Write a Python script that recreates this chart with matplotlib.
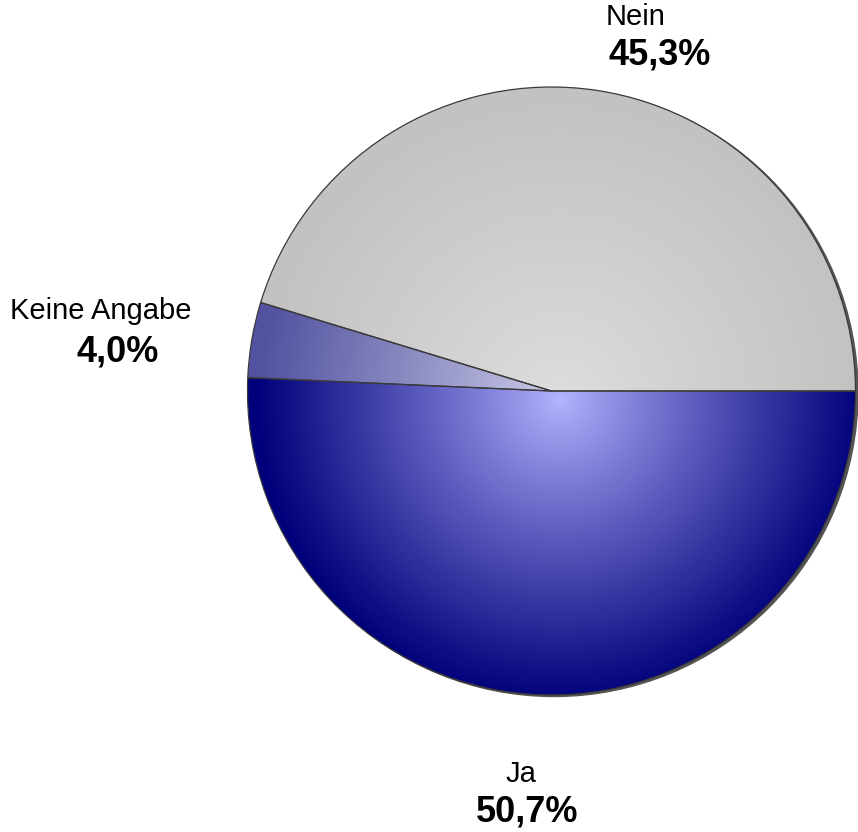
import numpy as np
import matplotlib
matplotlib.use('Agg')
import matplotlib.pyplot as plt
from matplotlib.colors import LinearSegmentedColormap
from matplotlib.patches import Circle

# Data
labels = ['Ja', 'Keine Angabe', 'Nein']
shares = [50.7, 4.0, 45.3]
share_text = ['50,7%', '4,0%', '45,3%']

# Gradient colours (centre -> edge) per slice
grad_colors = [('#b4b4ff', '#00007a'), ('#d0d0ec', '#5252a0'), ('#dedede', '#c2c2c2')]

W, H = 858, 832
fig = plt.figure(figsize=(W / 100, H / 100), dpi=100)
ax = fig.add_axes([0, 0, 1, 1])

cx, cy, r = 551.5, 391, 304

# soft shadow on the right edge
ax.add_patch(Circle((cx + 2.5, cy + 1.5), r, color='#555555', zorder=0.5))

# y axis is inverted below, so counterclock=True draws clockwise on screen
wedges, _ = ax.pie(shares, startangle=0, counterclock=True, center=(cx, cy), radius=r,
                   wedgeprops=dict(edgecolor='#3a3a3a', linewidth=0.9), frame=False)
ax.set_xlim(0, W)
ax.set_ylim(H, 0)
ax.set_aspect('equal')
ax.axis('off')

yy, xx = np.mgrid[0:H, 0:W]
dist = np.hypot(xx - (cx + 8), yy - (cy + 8)) / r
dist = np.clip(dist, 0, 1)

for w, (c0, c1) in zip(wedges, grad_colors):
    cmap = LinearSegmentedColormap.from_list('g', [c0, c1])
    w.set_facecolor('none')
    w.set_zorder(3)
    im = ax.imshow(dist ** 0.9, cmap=cmap, extent=(0, W, H, 0), vmin=0, vmax=1,
                   interpolation='bilinear', zorder=2)
    im.set_clip_path(w)
ax.set_xlim(0, W)
ax.set_ylim(H, 0)

# Labels
label_pos = [(521, 774), (101, 311), (636, 17)]
pct_pos = [(527, 812), (118, 352), (660, 55)]
for name, pct, (lx, ly), (px, py) in zip(labels, share_text, label_pos, pct_pos):
    ax.text(lx, ly, name, ha='center', va='center', fontsize=21,
            family='Liberation Sans', color='black')
    ax.text(px, py, pct, ha='center', va='center', fontsize=26, fontweight='bold',
            family='Liberation Sans', color='black')

fig.savefig('out.png', dpi=100, facecolor='white')
